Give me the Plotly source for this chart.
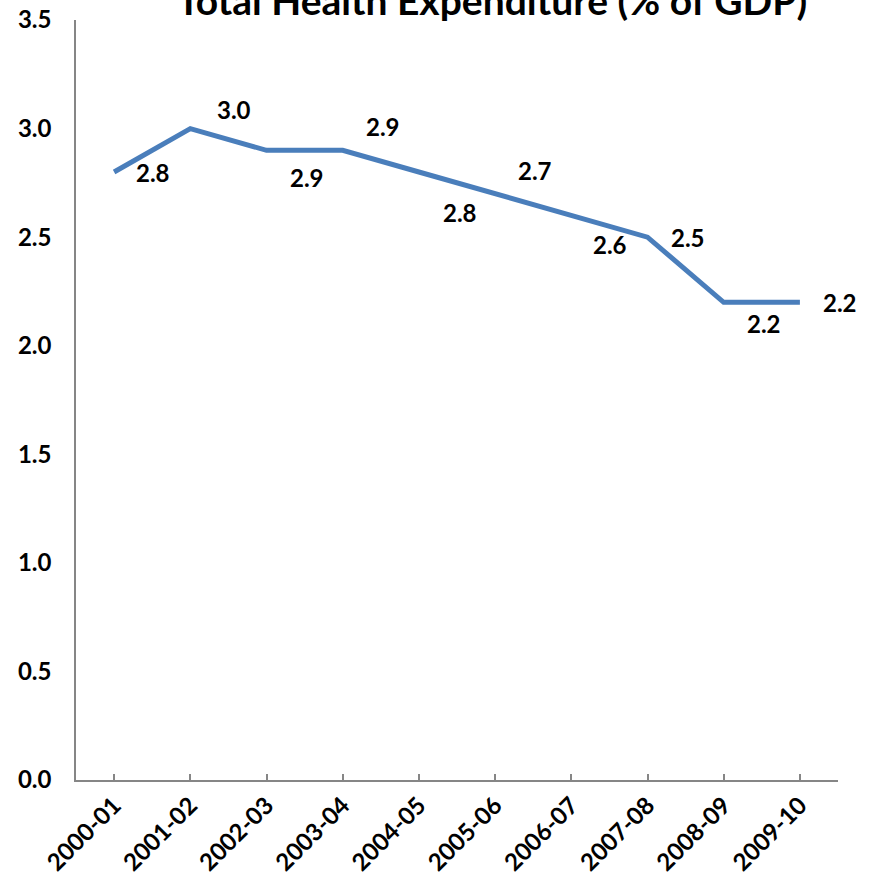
import plotly.graph_objects as go

years = ["2000-01", "2001-02", "2002-03", "2003-04", "2004-05",
         "2005-06", "2006-07", "2007-08", "2008-09", "2009-10"]
values = [2.8, 3.0, 2.9, 2.9, 2.8, 2.7, 2.6, 2.5, 2.2, 2.2]
y_ticks = [0.0, 0.5, 1.0, 1.5, 2.0, 2.5, 3.0, 3.5]

# label offsets (style only), pixels: (dx, dy) with dy positive = down
label_dx = [39, 44, 40, 40, 41, 40, 39, 40, 40, 40]
label_dy = [0, -19, 27, -24, 40, -23, 29, 0, 21, 0]

FONT = "Lato"
xs = list(range(len(years)))

fig = go.Figure()
fig.add_trace(go.Scatter(
    x=xs, y=values, mode="lines",
    line=dict(color="#4A7EBB", width=5),
    hoverinfo="skip", showlegend=False,
))

for i, v in enumerate(values):
    fig.add_annotation(
        x=xs[i], y=v, xref="x", yref="y",
        text=f"<b>{v:.1f}</b>", showarrow=False,
        xshift=label_dx[i], yshift=-label_dy[i],
        font=dict(family=FONT, size=24, color="#000000"),
    )

fig.add_annotation(
    x=(492 - 76) / (838 - 76), y=1.0, xref="paper", yref="paper",
    text="<b>Total Health Expenditure (% of GDP)</b>",
    showarrow=False, yanchor="bottom", xanchor="center", yshift=-5,
    font=dict(family=FONT, size=39, color="#000000"),
)

fig.update_layout(
    width=873, height=887,
    margin=dict(l=76, r=35, t=20, b=107),
    paper_bgcolor="white", plot_bgcolor="white",
    font=dict(family=FONT, size=24, color="#000000"),
    xaxis=dict(
        range=[-0.5, len(years) - 0.5],
        tickmode="array",
        tickvals=xs + [len(years) - 0.5],
        ticktext=[f"<b>{y}</b>" for y in years] + [""],
        tickangle=-45, automargin=False,
        ticks="inside", ticklen=6, tickwidth=1.5, tickcolor="#868686",
        showline=True, linecolor="#868686", linewidth=1.5,
        showgrid=False, zeroline=False,
        tickfont=dict(family=FONT, size=24, color="#000000"),
    ),
    yaxis=dict(
        range=[0, 3.5],
        tickmode="array",
        tickvals=y_ticks,
        ticktext=[f"<b>{t:.1f}</b>" for t in y_ticks],
        ticks="", ticklabelstandoff=18, automargin=False,
        ticklabeloverflow="allow",
        showline=True, linecolor="#868686", linewidth=1.5,
        showgrid=False, zeroline=False,
        tickfont=dict(family=FONT, size=24, color="#000000"),
    ),
)

fig.write_html("out.html",
               config={"displayModeBar": False},
               post_script="document.body.style.margin='0';"
                           "document.body.style.overflow='hidden';")
